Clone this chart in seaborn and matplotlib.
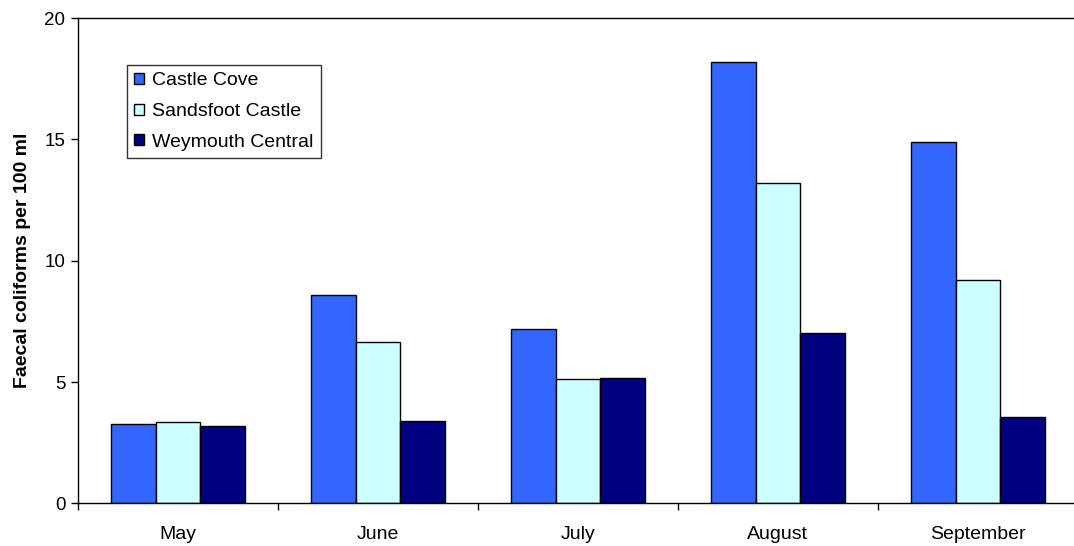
import matplotlib
matplotlib.use("Agg")
import matplotlib.pyplot as plt
import seaborn as sns
import pandas as pd
from matplotlib.patches import Patch

months = ["May", "June", "July", "August", "September"]
sites = ["Castle Cove", "Sandsfoot Castle", "Weymouth Central"]
castle_cove = [3.26, 8.58, 7.19, 18.18, 14.89]
sandsfoot_castle = [3.37, 6.66, 5.11, 13.22, 9.20]
weymouth_central = [3.20, 3.38, 5.16, 7.03, 3.57]
colors = ["#3366FF", "#CCFFFF", "#000080"]

df = pd.DataFrame({
    "month": months * 3,
    "site": [s for s in sites for _ in months],
    "value": castle_cove + sandsfoot_castle + weymouth_central,
})

sns.set_style("white")
plt.rcParams["font.family"] = ["Liberation Sans", "DejaVu Sans"]
plt.rcParams["text.color"] = "black"
plt.rcParams["axes.labelcolor"] = "black"
plt.rcParams["xtick.color"] = "black"
plt.rcParams["ytick.color"] = "black"

fig = plt.figure(figsize=(10.74, 5.46), dpi=100)
ax = fig.add_axes([0.0726, 0.078, 0.931, 0.889])

sns.barplot(data=df, x="month", y="value", hue="site", order=months,
            hue_order=sites, palette=colors, width=0.667, edgecolor="black",
            linewidth=1.0, saturation=1, errorbar=None, ax=ax, legend=False)

ax.set_xlim(-0.5, 4.5)
ax.set_ylim(0, 20)
ax.set_yticks([0, 5, 10, 15, 20])
ax.tick_params(axis="y", direction="out", length=5, width=1, left=True,
               labelsize=13.5, pad=4)
ax.set_xticks(range(len(months)))
ax.set_xticklabels(months, fontsize=14)
ax.tick_params(axis="x", which="major", length=0, pad=16)
ax.set_xticks([i - 0.5 for i in range(len(months) + 1)], minor=True)
ax.tick_params(axis="x", which="minor", direction="out", length=5, width=1,
               bottom=True)
ax.set_xlabel("")
ax.set_ylabel("Faecal coliforms per 100 ml", fontsize=14,
              fontweight="bold", labelpad=10)

for sp in ax.spines.values():
    sp.set_color("black")
    sp.set_linewidth(1.0)

handles = [Patch(facecolor=c, edgecolor="black", linewidth=1.0, label=s)
           for c, s in zip(colors, sites)]
leg = ax.legend(handles=handles, loc="upper left",
                bbox_to_anchor=(0.049, 0.903), fontsize=14,
                handlelength=0.52, handleheight=0.52, handletextpad=0.4,
                labelspacing=0.7, borderpad=0.38, fancybox=False,
                frameon=True, borderaxespad=0)
leg.get_frame().set_edgecolor("black")
leg.get_frame().set_linewidth(1.0)

fig.savefig("out.png", dpi=100)
